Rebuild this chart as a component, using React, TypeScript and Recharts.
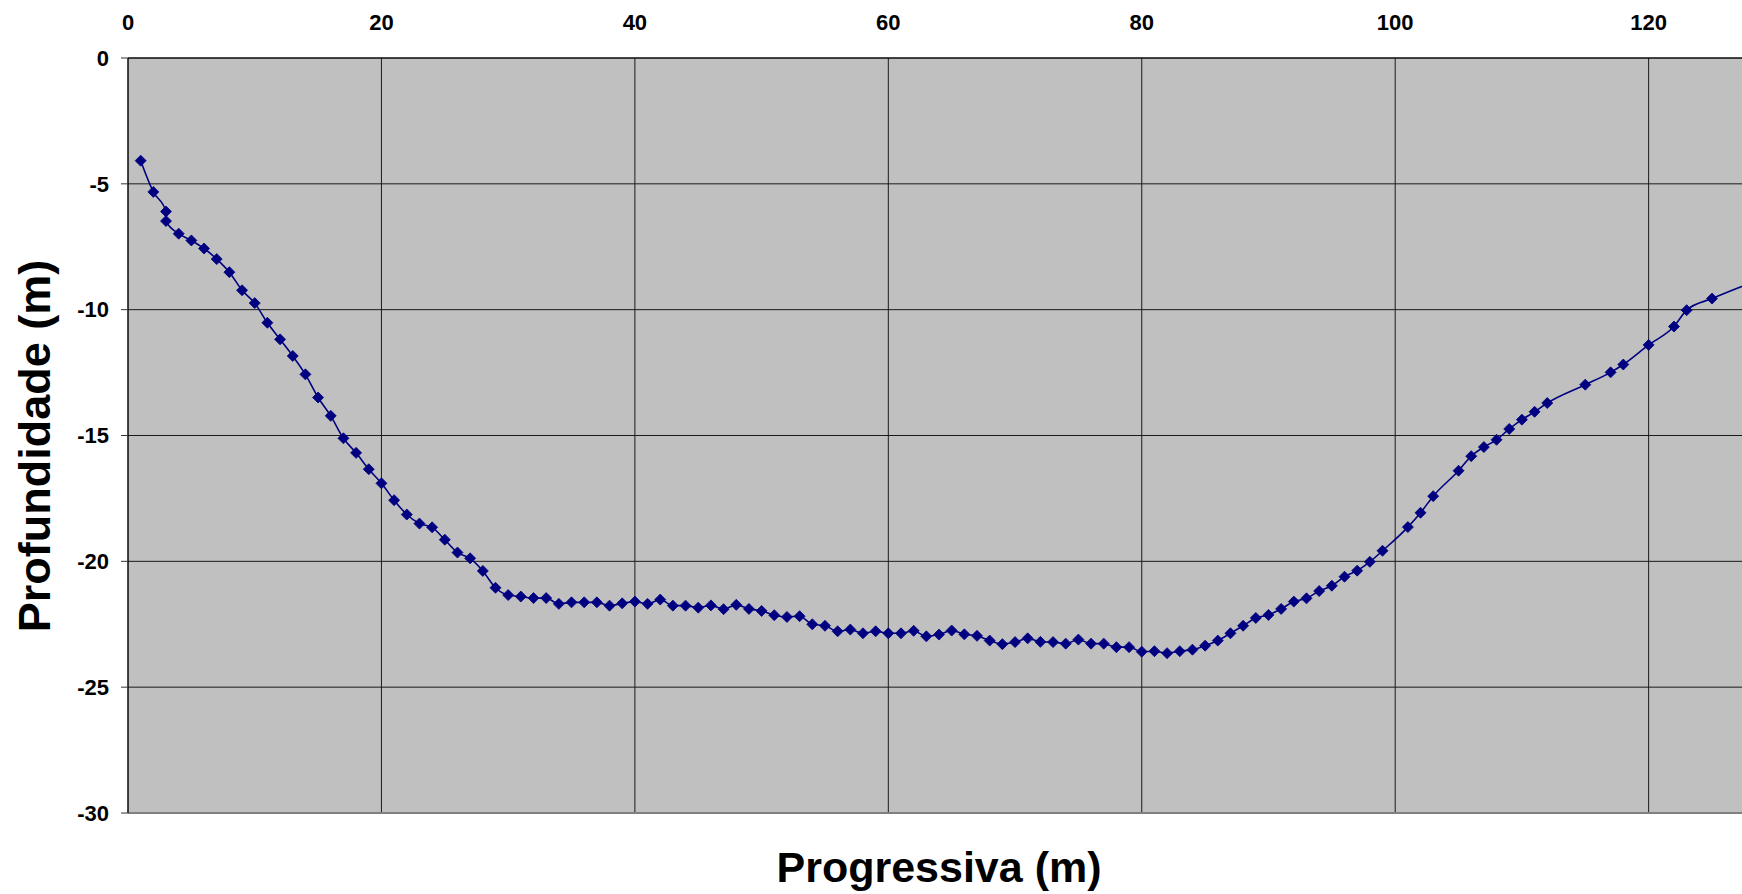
import React from 'react';
import { LineChart, Line, XAxis, YAxis, CartesianGrid, ReferenceLine } from 'recharts';

// Progressiva (m)
const progressiva = [
  1, 2, 3, 3, 4, 5, 6, 7, 8, 9, 10, 11, 12, 13, 14, 15, 16, 17, 18, 19, 20,
  21, 22, 23, 24, 25, 26, 27, 28, 29, 30, 31, 32, 33, 34, 35, 36, 37, 38, 39, 40,
  41, 42, 43, 44, 45, 46, 47, 48, 49, 50, 51, 52, 53, 54, 55, 56, 57, 58, 59, 60,
  61, 62, 63, 64, 65, 66, 67, 68, 69, 70, 71, 72, 73, 74, 75, 76, 77, 78, 79, 80,
  81, 82, 83, 84, 85, 86, 87, 88, 89, 90, 91, 92, 93, 94, 95, 96, 97, 98, 99,
  101, 102, 103, 105, 106, 107, 108, 109, 110, 111, 112, 115, 117, 118, 120,
  122, 123, 125, 128,
];

// Profundidade (m)
const profundidade = [
  -4.08, -5.32, -6.1, -6.48, -6.98, -7.25, -7.57, -7.99, -8.51, -9.23, -9.74,
  -10.52, -11.18, -11.84, -12.57, -13.49, -14.22, -15.11, -15.69, -16.34, -16.9,
  -17.57, -18.14, -18.5, -18.65, -19.14, -19.65, -19.88, -20.38, -21.05, -21.34,
  -21.4, -21.46, -21.46, -21.69, -21.63, -21.63, -21.63, -21.76, -21.67, -21.6,
  -21.69, -21.52, -21.76, -21.76, -21.84, -21.75, -21.9, -21.73, -21.89, -21.97,
  -22.14, -22.21, -22.18, -22.5, -22.56, -22.78, -22.71, -22.86, -22.78, -22.86,
  -22.86, -22.76, -22.98, -22.91, -22.75, -22.9, -22.96, -23.15, -23.29, -23.21,
  -23.06, -23.2, -23.21, -23.27, -23.11, -23.27, -23.27, -23.41, -23.41, -23.59,
  -23.57, -23.65, -23.57, -23.51, -23.35, -23.15, -22.86, -22.56, -22.25, -22.13,
  -21.89, -21.6, -21.47, -21.18, -20.97, -20.61, -20.37, -20.02, -19.58,
  -18.64, -18.07, -17.41, -16.4, -15.82, -15.46, -15.17, -14.74, -14.37, -14.06, -13.71,
  -12.98, -12.49, -12.18, -11.4,
  -10.67, -10.02, -9.56, -8.95,
];

const xTicks = [0, 20, 40, 60, 80, 100, 120];
const yTicks = [0, -5, -10, -15, -20, -25, -30];

const data = progressiva.map((x, i) => ({ x, y: profundidade[i] }));

const FONT = '"Liberation Sans", Arial, Helvetica, sans-serif';

const Diamond = (props: any) => {
  const { cx, cy, index } = props;
  if (cx == null || cy == null || isNaN(cx) || isNaN(cy)) return null;
  const r = 5.5;
  return (
    <polygon
      key={`dot-${index}`}
      points={`${cx},${cy - r} ${cx + r},${cy} ${cx},${cy + r} ${cx - r},${cy}`}
      fill="#000080"
      stroke="#000080"
      strokeWidth={0.8}
    />
  );
};

const tickStyle = { fontSize: 22, fontWeight: 'bold' as const, fill: '#000', fontFamily: FONT };

export default function App() {
  return (
    <div
      style={{
        position: 'absolute',
        left: 0,
        top: 0,
        width: 1742,
        height: 894,
        overflow: 'hidden',
        background: '#fff',
      }}
    >
      <LineChart
        width={1750}
        height={894}
        data={data}
        margin={{ top: 0, right: 0, bottom: 81, left: 0 }}
      >
        <CartesianGrid
          fill="#C0C0C0"
          fillOpacity={1}
          stroke="#1a1a1a"
          strokeWidth={1}
        />
        <XAxis
          dataKey="x"
          type="number"
          orientation="top"
          domain={[0, 128]}
          ticks={xTicks}
          height={58}
          tickLine={false}
          tickSize={0}
          tickMargin={28}
          axisLine={{ stroke: '#000', strokeWidth: 1 }}
          tick={tickStyle}
          interval={0}
        />
        <YAxis
          type="number"
          domain={[-30, 0]}
          ticks={yTicks}
          width={128}
          tickSize={7}
          tickMargin={12}
          tickLine={{ stroke: '#333' }}
          axisLine={{ stroke: '#000', strokeWidth: 1 }}
          tick={tickStyle}
          interval={0}
          allowDataOverflow
        />
        <ReferenceLine y={-30} stroke="#808080" strokeWidth={2} />
        <Line
          type="monotone"
          dataKey="y"
          stroke="#000080"
          strokeWidth={1.6}
          dot={Diamond}
          activeDot={false}
          isAnimationActive={false}
        />
      </LineChart>
      <svg
        width={1742}
        height={894}
        style={{ position: 'absolute', left: 0, top: 0, pointerEvents: 'none' }}
      >
        <text
          x={939}
          y={882}
          textAnchor="middle"
          fontFamily={FONT}
          fontWeight="bold"
          fontSize={43}
          fill="#000"
        >
          Progressiva (m)
        </text>
        <text
          transform="translate(50,446) rotate(-90)"
          textAnchor="middle"
          fontFamily={FONT}
          fontWeight="bold"
          fontSize={45}
          fill="#000"
        >
          Profundidade (m)
        </text>
      </svg>
    </div>
  );
}
